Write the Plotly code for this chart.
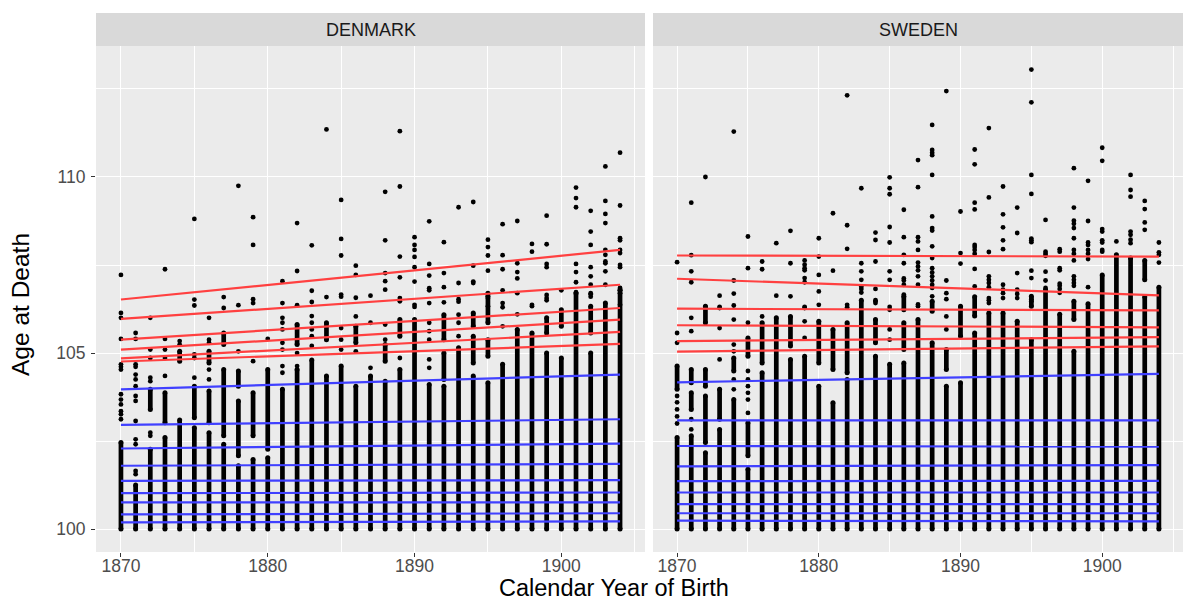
import plotly.graph_objects as go

YEARS = list(range(1870, 1905))
COUNTRIES = ["DENMARK", "SWEDEN"]

# ---- DENMARK: solid column ranges (age intervals) and individual points per birth year ----
DK_SEGMENTS = [
    [[100, 102.46]],
    [[100, 101.25]],
    [[100, 102.27], [103.4, 103.97]],
    [[100, 102.6], [103.02, 103.87]],
    [[100, 103.1], [104.77, 105.05]],
    [[100, 102.88], [103.16, 104.06]],
    [[100, 102.74], [103.02, 103.92], [104.72, 105.05]],
    [[100, 102.41], [102.65, 104.53], [105.24, 105.57]],
    [[100, 101.8], [102.08, 103.64], [104.06, 104.49]],
    [[100, 101.98], [102.65, 103.87]],
    [[100, 102.03], [102.27, 104.53]],
    [[100, 103.97]],
    [[100, 104.53], [105.24, 105.81]],
    [[100, 104.8]],
    [[100, 104.35], [105.38, 105.86]],
    [[100, 104.63]],
    [[100, 104.06], [105.29, 105.76]],
    [[100, 104.35]],
    [[100, 104.2], [104.77, 105.24]],
    [[100, 104.53], [105.48, 105.95]],
    [[100, 105.95]],
    [[100, 104.11]],
    [[100, 104.06], [104.25, 105.0], [105.38, 106.09]],
    [[100, 105.15]],
    [[100, 104.35], [104.72, 105.48], [105.76, 106.14]],
    [[100, 104.16], [104.91, 105.38], [105.86, 106.7]],
    [[100, 104.68]],
    [[100, 105.67]],
    [[100, 105.57]],
    [[100, 105.0], [105.57, 106.0]],
    [[100, 104.86], [105.76, 106.23]],
    [[100, 106.7]],
    [[100, 105.0], [105.57, 106.33]],
    [[100, 106.42]],
    [[100, 106.8]],
]
DK_POINTS = [
    [107.22, 106.14, 106.0, 105.4, 104.68, 104.61, 104.53, 103.83, 103.68, 103.54, 103.35, 103.26, 103.12],
    [105.57, 105.4, 104.68, 104.61, 104.39, 104.25, 104.06, 103.78, 103.64, 103.07, 102.55, 102.41, 101.65, 101.56],
    [106.0, 105.1, 104.86, 104.3, 104.2, 102.74, 102.65],
    [107.38, 105.4, 105.1, 104.86, 104.35],
    [105.34, 105.24],
    [108.81, 106.52, 106.35, 104.96, 104.86, 104.3],
    [106.0, 105.38, 105.29, 104.53, 104.25],
    [106.59, 106.28],
    [109.75, 106.36, 105.05],
    [108.86, 108.07, 106.53, 106.42, 104.77],
    [105.4],
    [107.04, 106.42, 106.0, 105.86, 105.67, 105.29, 105.1, 104.63, 104.44],
    [108.69, 107.33, 106.36, 105.0, 104.63],
    [108.06, 106.77, 106.45, 106.05, 105.86, 105.67, 105.48, 105.2],
    [111.35, 106.59],
    [109.35, 108.24, 107.77, 106.66, 106.6, 105.71, 105.38, 105.1],
    [107.48, 107.22, 106.57, 106.04, 105.05],
    [106.63, 105.86, 104.58],
    [109.58, 108.2, 107.27, 107.04, 106.8, 105.81, 105.38],
    [111.3, 109.73, 107.74, 107.15, 106.56, 106.47, 104.86],
    [108.29, 108.07, 107.93, 107.73, 107.44, 107.03, 106.37, 106.31],
    [108.74, 107.53, 107.2, 106.84, 106.78, 106.42, 105.86, 105.62, 105.38, 104.82, 104.58],
    [108.15, 107.27, 106.87, 106.44],
    [109.14, 106.99, 106.53, 106.46, 106.09, 105.86, 105.48],
    [109.29, 107.48, 107.03, 106.99],
    [108.22, 108.01, 107.77, 107.34, 106.61, 106.56, 106.33],
    [108.66, 107.78, 107.38, 106.78, 106.42, 106.3, 105.76],
    [108.75, 107.55, 107.3, 107.12, 106.7, 106.1],
    [108.1, 107.88, 106.37, 106.33],
    [108.9, 108.09, 107.53, 107.44, 106.65, 106.56, 106.5],
    [106.78],
    [109.7, 109.4, 109.14, 107.53, 107.3, 107.01, 106.73],
    [109.04, 108.45, 108.07, 107.44, 107.18, 106.94, 106.67, 106.6, 106.7],
    [110.3, 109.32, 108.95, 108.69, 107.93, 107.79, 107.6, 107.55, 107.32, 106.94],
    [110.69, 109.19, 108.26, 108.2, 107.93, 107.84, 107.5, 107.44, 106.85, 106.78, 106.7, 106.37],
]

# ---- SWEDEN ----
SE_SEGMENTS = [
    [[100, 102.6], [103.97, 104.63]],
    [[100, 102.65], [103.4, 103.87], [104.16, 104.53]],
    [[100, 102.17], [102.46, 103.78], [104.06, 104.53], [105.86, 106.33]],
    [[100, 102.83], [103.12, 103.97]],
    [[100, 103.68], [104.49, 104.86]],
    [[100, 101.7], [102.08, 103.02], [104.91, 105.43]],
    [[100, 104.44], [104.72, 105.86]],
    [[100, 106.0]],
    [[100, 104.82], [105.2, 106.04]],
    [[100, 104.91]],
    [[100, 104.06], [104.72, 105.9]],
    [[100, 103.59], [104.53, 105.67]],
    [[100, 104.25], [104.44, 105.86]],
    [[100, 106.5]],
    [[100, 104.91], [105.29, 105.95]],
    [[100, 104.68]],
    [[100, 104.72], [105.1, 105.86], [106.23, 106.61]],
    [[100, 105.95]],
    [[100, 105.29], [106.19, 106.47]],
    [[100, 104.06], [104.53, 105.1]],
    [[100, 104.16], [105.48, 106.33]],
    [[100, 105.57], [106.05, 106.6]],
    [[100, 106.14]],
    [[100, 106.14]],
    [[100, 105.9]],
    [[100, 105.38], [106.33, 106.61]],
    [[100, 106.8]],
    [[100, 106.1]],
    [[100, 105.05], [105.95, 106.47]],
    [[100, 106.4]],
    [[100, 107.22]],
    [[100, 107.79]],
    [[100, 107.7]],
    [[100, 106.6], [107.08, 107.63]],
    [[100, 106.87]],
]
SE_POINTS = [
    [107.58, 105.57, 105.29, 103.78, 103.6, 103.4, 103.2, 103.0],
    [109.27, 107.78, 107.32, 107.01, 106.0, 105.62, 103.12, 102.83],
    [110.0, 106.31],
    [106.63, 106.31, 106.28, 105.71, 104.82],
    [111.29, 107.06, 106.69, 106.35, 105.95, 105.24, 105.05, 104.25, 103.97],
    [108.31, 107.41, 105.86, 104.49, 104.25, 104.06, 103.87, 103.68, 103.3],
    [107.6, 107.38, 106.04],
    [108.12, 106.63],
    [108.47, 107.55, 106.61],
    [107.63, 107.51, 107.41, 107.35, 107.13, 107.01, 106.31, 106.28, 105.9, 105.43],
    [108.26, 107.74, 107.22, 106.75, 106.37],
    [108.97, 107.34],
    [112.32, 108.63, 107.96, 106.37, 106.3],
    [109.68, 107.55, 107.32, 107.08, 106.89, 106.82, 106.72],
    [108.42, 108.21, 107.6, 106.82, 106.5, 106.47, 106.42],
    [109.99, 109.68, 109.51, 108.58, 108.14, 107.32, 107.08, 106.31, 106.23, 105.67, 105.38],
    [109.07, 108.29, 107.79, 107.55, 107.12, 107.06, 106.94, 106.66],
    [110.48, 109.71, 108.29, 108.17, 107.93, 107.57, 107.46, 107.35, 107.18, 106.94, 106.38, 106.33],
    [111.48, 110.77, 110.69, 110.62, 110.06, 108.88, 108.55, 108.48, 108.03, 107.7, 107.41, 107.29,
     107.18, 107.06, 106.94, 106.85, 106.61],
    [112.44, 107.06, 106.7, 106.53, 106.04, 105.67],
    [109.02, 107.84, 107.54],
    [110.78, 110.36, 109.27, 109.08, 108.07, 108.01, 107.93, 107.82, 107.39, 106.89],
    [111.39, 109.42, 107.87, 107.18, 107.08, 106.99, 106.87, 106.56, 106.5, 106.42],
    [109.73, 108.94, 108.57, 108.2, 107.95, 106.94, 106.8, 106.56, 106.7],
    [109.13, 108.41, 107.27, 106.8, 106.68, 106.56],
    [113.05, 112.12, 110.06, 109.52, 108.25, 108.2, 108.15, 107.34, 107.13, 106.53, 106.47],
    [108.78, 107.88, 107.82, 107.76, 107.31, 107.06, 106.85],
    [107.95, 107.88, 107.41, 107.35, 106.97, 106.91, 106.82, 106.71],
    [110.25, 109.13, 108.76, 108.67, 108.55, 108.26, 107.93, 107.82, 107.63, 107.18, 107.08, 106.99, 106.91],
    [109.89, 108.75, 108.14, 108.07, 107.93, 107.82, 107.67, 106.87],
    [110.83, 110.46, 108.52, 108.45, 108.2, 108.14, 107.93, 107.88],
    [108.17],
    [110.06, 109.63, 109.44, 108.45, 108.36, 108.22, 108.12],
    [109.32, 109.09, 108.71, 108.5],
    [108.14, 107.86, 107.79, 107.57],
]

# ---- quantile regression lines: fitted value at 1870 and at 1904 ----
LINE_YEARS = [1870, 1904]
DK_BLUE_START = [103.97, 102.96, 102.29, 101.80, 101.37, 101.02, 100.76, 100.42, 100.19]
DK_BLUE_END = [104.39, 103.12, 102.43, 101.85, 101.39, 101.04, 100.76, 100.45, 100.22]
DK_RED_START = [106.52, 105.97, 105.38, 105.10, 104.85, 104.76]
DK_RED_END = [107.93, 106.94, 106.28, 105.95, 105.60, 105.26]
SE_BLUE_START = [104.17, 103.09, 102.36, 101.78, 101.36, 101.04, 100.71, 100.45, 100.24]
SE_BLUE_END = [104.41, 103.09, 102.34, 101.82, 101.37, 101.04, 100.71, 100.45, 100.22]
SE_RED_START = [107.77, 107.11, 106.26, 105.79, 105.34, 105.04]
SE_RED_END = [107.74, 106.64, 106.21, 105.73, 105.45, 105.19]

X_TICKS = [1870, 1880, 1890, 1900]
Y_TICKS = [100, 105, 110]

FONT = "Liberation Sans, Arial, Helvetica, sans-serif"
RED = "rgb(255,64,64)"
BLUE = "rgb(64,64,255)"

fig = go.Figure()


def add_panel(segments, points, blue_s, blue_e, red_s, red_e, xa, ya):
    sx, sy = [], []
    for yr, segs in zip(YEARS, segments):
        for lo, hi in segs:
            sx += [yr, yr, None]
            sy += [lo, hi, None]
    fig.add_trace(go.Scatter(x=sx, y=sy, mode="lines+markers", xaxis=xa, yaxis=ya,
                             line=dict(color="black", width=4.7),
                             marker=dict(color="black", size=5),
                             hoverinfo="skip", showlegend=False))
    px, py = [], []
    for yr, pts in zip(YEARS, points):
        for a in pts:
            px.append(yr)
            py.append(a)
    fig.add_trace(go.Scatter(x=px, y=py, mode="markers", xaxis=xa, yaxis=ya,
                             marker=dict(color="black", size=4.8),
                             showlegend=False))
    for s, e in zip(blue_s, blue_e):
        fig.add_trace(go.Scatter(x=LINE_YEARS, y=[s, e], mode="lines", xaxis=xa, yaxis=ya,
                                 line=dict(color=BLUE, width=2.2), showlegend=False))
    for s, e in zip(red_s, red_e):
        fig.add_trace(go.Scatter(x=LINE_YEARS, y=[s, e], mode="lines", xaxis=xa, yaxis=ya,
                                 line=dict(color=RED, width=2.2), showlegend=False))


add_panel(DK_SEGMENTS, DK_POINTS, DK_BLUE_START, DK_BLUE_END, DK_RED_START, DK_RED_END, "x", "y")
add_panel(SE_SEGMENTS, SE_POINTS, SE_BLUE_START, SE_BLUE_END, SE_RED_START, SE_RED_END, "x2", "y2")

XR = [1868.3, 1905.7]
YR = [99.35, 113.72]
W, H = 1194, 601
ML, MR, MT, MB = 96, 11, 46, 49
PW = W - ML - MR
PH = H - MT - MB
gap = 8 / PW
d1 = [0, (645 - ML) / PW]
d2 = [d1[1] + gap, 1]

xcommon = dict(range=XR, tickmode="array", tickvals=X_TICKS, ticks="outside", ticklen=4,
               tickcolor="#333333", tickwidth=1.1, showgrid=True, gridcolor="white",
               gridwidth=1.4, zeroline=False, showline=False, ticklabelstandoff=-6,
               tickfont=dict(family=FONT, size=17.5, color="#4D4D4D"),
               minor=dict(tickmode="array", tickvals=[1875, 1885, 1895, 1905], showgrid=True,
                          gridcolor="white", gridwidth=0.7, ticks=""))
ycommon = dict(range=YR, tickmode="array", tickvals=Y_TICKS, showgrid=True, gridcolor="white",
               gridwidth=1.4, zeroline=False, showline=False,
               tickfont=dict(family=FONT, size=17.5, color="#4D4D4D"),
               minor=dict(tickmode="array", tickvals=[102.5, 107.5, 112.5], showgrid=True,
                          gridcolor="white", gridwidth=0.7, ticks=""))

fig.update_layout(
    width=W, height=H,
    margin=dict(l=ML, r=MR, t=MT, b=MB, pad=0),
    paper_bgcolor="white", plot_bgcolor="#EBEBEB",
    showlegend=False,
    xaxis=dict(domain=d1, anchor="y", **xcommon),
    xaxis2=dict(domain=d2, anchor="y2", **xcommon),
    yaxis=dict(anchor="x", ticks="outside", ticklen=4, tickcolor="#333333", tickwidth=1.1,
               ticklabelstandoff=2, **ycommon),
    yaxis2=dict(anchor="x2", matches="y", showticklabels=False, ticks="", **ycommon),
)

strip_h = 33 / PH
for name, dom in zip(COUNTRIES, [d1, d2]):
    fig.add_shape(type="rect", xref="paper", yref="paper", x0=dom[0], x1=dom[1],
                  y0=1, y1=1 + strip_h, fillcolor="#D9D9D9", line=dict(width=0), layer="below")
    fig.add_annotation(text=name, xref="paper", yref="paper", x=(dom[0] + dom[1]) / 2,
                       y=1 + strip_h / 2, xanchor="center", yanchor="middle", showarrow=False,
                       font=dict(family=FONT, size=18, color="#1A1A1A"))

fig.add_annotation(text="Calendar Year of Birth", xref="paper", yref="paper",
                   x=(614 - ML) / PW, y=-(588 - (H - MB)) / PH, xanchor="center", yanchor="middle",
                   showarrow=False, font=dict(family=FONT, size=23.5, color="black"))
fig.add_annotation(text="Age at Death", xref="paper", yref="paper", textangle=-90,
                   x=(21 - ML) / PW, y=(H - MB - 305) / PH, xanchor="center", yanchor="middle",
                   showarrow=False, font=dict(family=FONT, size=24.5, color="black"))

fig.write_html("out.html", config={"displayModeBar": False},
               post_script="document.body.style.margin='0';document.body.style.padding='0';"
                           "document.documentElement.style.overflow='hidden';")
